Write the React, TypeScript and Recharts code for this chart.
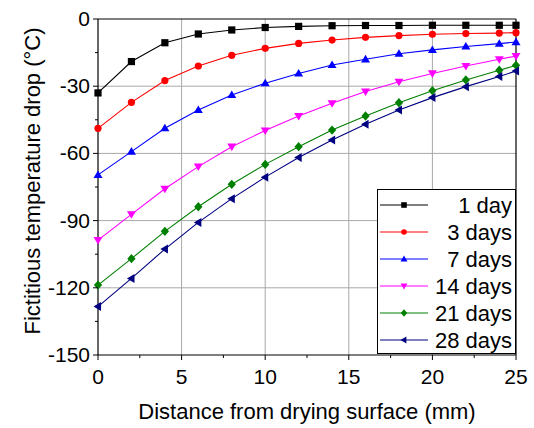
import React from 'react';
import { LineChart, Line, XAxis, YAxis, ReferenceLine, Legend } from 'recharts';

const DISTANCE = [0, 2, 4, 6, 8, 10, 12, 14, 16, 18, 20, 22, 24, 25];
const DAY1 = [-33, -19, -10.6, -6.7, -4.9, -3.8, -3.3, -3.0, -2.9, -2.9, -2.8, -2.8, -2.8, -2.8];
const DAY3 = [-48.8, -37.2, -27.5, -21, -16.2, -13.1, -10.9, -9.4, -8.2, -7.4, -6.8, -6.5, -6.3, -6.1];
const DAY7 = [-69.6, -59.2, -48.8, -40.6, -33.9, -28.7, -24.3, -20.5, -18.0, -15.5, -13.8, -12.3, -11.0, -10.3];
const DAY14 = [-98.7, -87.2, -75.8, -65.9, -57.0, -49.8, -43.3, -37.6, -32.4, -28.0, -24.3, -21.0, -18.0, -16.5];
const DAY21 = [-118.8, -107, -94.8, -83.8, -73.8, -64.9, -57.0, -49.6, -43.3, -37.4, -32.0, -27.2, -22.9, -20.7];
const DAY28 = [-128.4, -115.8, -102.7, -90.8, -80.2, -70.6, -61.8, -54.0, -47.0, -40.6, -35.1, -30.2, -25.7, -23.2];

const X_TICKS = [0, 2.5, 5, 7.5, 10, 12.5, 15, 17.5, 20, 22.5, 25];
const Y_TICKS = [-150, -135, -120, -105, -90, -75, -60, -45, -30, -15, 0];
const GRID_X = [5, 10, 15, 20];
const GRID_Y = [-120, -90, -60, -30];

const SERIES = [
  { key: 'd1', name: '1 day', values: DAY1, color: '#000000', shape: 'square' },
  { key: 'd3', name: '3 days', values: DAY3, color: '#ff0000', shape: 'circle' },
  { key: 'd7', name: '7 days', values: DAY7, color: '#0000ff', shape: 'up' },
  { key: 'd14', name: '14 days', values: DAY14, color: '#ff00ff', shape: 'down' },
  { key: 'd21', name: '21 days', values: DAY21, color: '#008000', shape: 'diamond' },
  { key: 'd28', name: '28 days', values: DAY28, color: '#000080', shape: 'left' },
];

const data = DISTANCE.map((x, i) => {
  const row: Record<string, number> = { x };
  SERIES.forEach(s => { row[s.key] = s.values[i]; });
  return row;
});

const FONT = '"Liberation Sans", Arial, sans-serif';

function Marker({ shape, cx, cy, color, s }: { shape: string; cx: number; cy: number; color: string; s: number }) {
  switch (shape) {
    case 'square':
      return <rect x={cx - s} y={cy - s} width={2 * s} height={2 * s} fill={color} />;
    case 'circle':
      return <circle cx={cx} cy={cy} r={s} fill={color} />;
    case 'up':
      return <polygon points={`${cx},${cy - 1.25 * s} ${cx - 1.25 * s},${cy + 0.85 * s} ${cx + 1.25 * s},${cy + 0.85 * s}`} fill={color} />;
    case 'down':
      return <polygon points={`${cx},${cy + 1.25 * s} ${cx - 1.25 * s},${cy - 0.85 * s} ${cx + 1.25 * s},${cy - 0.85 * s}`} fill={color} />;
    case 'diamond':
      return <polygon points={`${cx},${cy - 1.3 * s} ${cx + 1.15 * s},${cy} ${cx},${cy + 1.3 * s} ${cx - 1.15 * s},${cy}`} fill={color} />;
    default:
      return <polygon points={`${cx - 1.25 * s},${cy} ${cx + 0.85 * s},${cy - 1.25 * s} ${cx + 0.85 * s},${cy + 1.25 * s}`} fill={color} />;
  }
}

const makeDot = (shape: string, color: string) => (props: any) => {
  const { cx, cy, index } = props;
  if (cx == null || cy == null) return <g key={`e-${index}`} />;
  return <Marker key={`m-${index}`} shape={shape} cx={cx} cy={cy} color={color} s={3.6} />;
};

const XTick = (props: any) => {
  const { x, y, payload } = props;
  const major = payload.value % 5 === 0;
  return (
    <g>
      <line x1={x} x2={x} y1={y} y2={y + (major ? 5 : 3)} stroke="#000" />
      {major && (
        <text x={x} y={y + 29} textAnchor="middle" fontSize={21} fill="#000" fontFamily={FONT}>
          {payload.value}
        </text>
      )}
    </g>
  );
};

const YTick = (props: any) => {
  const { x, y, payload } = props;
  const major = payload.value % 30 === 0;
  return (
    <g>
      <line x1={x - (major ? 5 : 3)} x2={x} y1={y} y2={y} stroke="#000" />
      {major && (
        <text x={x - 8} y={y + 7} textAnchor="end" fontSize={21} fill="#000" fontFamily={FONT}>
          {payload.value}
        </text>
      )}
    </g>
  );
};

const renderLegend = () => (
  <svg width={139} height={165}>
    <rect x={0.5} y={0.5} width={138} height={164} fill="#fff" stroke="#000" />
    {SERIES.map((s, i) => {
      const cy = 16 + i * 27;
      return (
        <g key={s.key}>
          <line x1={3} x2={51} y1={cy} y2={cy} stroke={s.color} strokeWidth={1.2} />
          <Marker shape={s.shape} cx={27} cy={cy} color={s.color} s={2.8} />
          <text x={135} y={cy + 8} textAnchor="end" fontSize={22} fill="#000" fontFamily={FONT}>
            {s.name}
          </text>
        </g>
      );
    })}
  </svg>
);

export default function App() {
  return (
    <div style={{ position: 'absolute', left: 0, top: 0, background: '#fff', fontFamily: FONT }}>
      <LineChart width={534} height={428} data={data} margin={{ top: 19, right: 18, bottom: 0, left: 0 }}>
        {GRID_X.map(v => (
          <ReferenceLine key={`gx-${v}`} x={v} stroke="#a8a8a8" strokeWidth={1} />
        ))}
        {GRID_Y.map(v => (
          <ReferenceLine key={`gy-${v}`} y={v} stroke="#a8a8a8" strokeWidth={1} />
        ))}
        <ReferenceLine y={0} stroke="#000" strokeWidth={1.2} />
        <ReferenceLine x={25} stroke="#000" strokeWidth={1.2} />
        <XAxis
          dataKey="x"
          type="number"
          domain={[0, 25]}
          ticks={X_TICKS}
          interval={0}
          height={73}
          tickSize={0}
          tickMargin={0}
          tickLine={false}
          tick={<XTick />}
          axisLine={{ stroke: '#000', strokeWidth: 1.2 }}
          label={{
            content: ({ viewBox }: any) => (
              <text x={viewBox.x + viewBox.width / 2} y={viewBox.y + 64} textAnchor="middle" fontSize={22} fill="#000" fontFamily={FONT}>
                Distance from drying surface (mm)
              </text>
            ),
          }}
        />
        <YAxis
          type="number"
          domain={[-150, 0]}
          ticks={Y_TICKS}
          interval={0}
          width={98}
          tickSize={0}
          tickMargin={0}
          tickLine={false}
          tick={<YTick />}
          axisLine={{ stroke: '#000', strokeWidth: 1.2 }}
          label={{
            content: ({ viewBox }: any) => {
              const cx = 32;
              const cy = viewBox.y + viewBox.height / 2 - 6;
              return (
                <text x={cx} y={cy} transform={`rotate(-90 ${cx} ${cy})`} textAnchor="middle" dominantBaseline="central" fontSize={22} fill="#000" fontFamily={FONT}>
                  Fictitious temperature drop (°C)
                </text>
              );
            },
          }}
        />
        {SERIES.map(s => (
          <Line
            key={s.key}
            dataKey={s.key}
            name={s.name}
            stroke={s.color}
            strokeWidth={1.1}
            dot={makeDot(s.shape, s.color)}
            activeDot={false}
            isAnimationActive={false}
          />
        ))}
        <Legend
          layout="horizontal"
          verticalAlign="middle"
          align="center"
          content={renderLegend}
          wrapperStyle={{ position: 'absolute', left: 377, top: 189, width: 139, height: 165 }}
        />
      </LineChart>
    </div>
  );
}
